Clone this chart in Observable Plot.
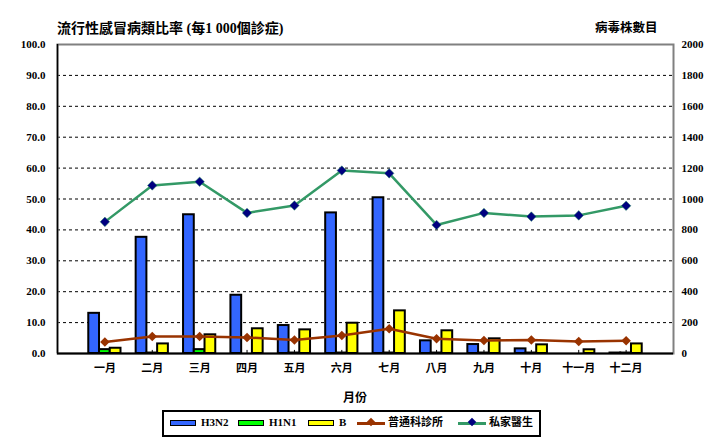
<!DOCTYPE html>
<html><head><meta charset="utf-8">
<script src="https://cdn.jsdelivr.net/npm/d3@7"></script>
<script src="https://cdn.jsdelivr.net/npm/@observablehq/plot@0.6"></script>
<style>
body{margin:0;background:#fff;}
#wrap{position:relative;width:721px;height:442px;font-family:"Liberation Serif","Noto Sans CJK TC",serif;font-weight:bold;color:#000;}
.t{position:absolute;white-space:nowrap;line-height:1;}
#legend{position:absolute;left:162px;top:410px;width:375px;height:23px;border:2px solid #000;font-size:11px;}
.sw{position:absolute;top:8px;width:24px;height:4px;border:1.5px solid #000;}
.ln{position:absolute;top:10px;width:28px;height:2.5px;}
.dm{position:absolute;top:7px;width:6px;height:6px;transform:rotate(45deg);}
.lt{position:absolute;top:5px;white-space:nowrap;line-height:1;}
</style></head><body><div id="wrap"></div>
<script>
const months = ["一月","二月","三月","四月","五月","六月","七月","八月","九月","十月","十一月","十二月"];
const h3n2 = [260, 752, 898, 377, 181, 910, 1008, 82, 58, 30, 0, 3];
const h1n1 = [25, 3, 25, 0, 3, 3, 3, 3, 3, 3, 0, 3];
const bVirus = [34, 62, 121, 160, 153, 196, 276, 147, 95, 56, 24, 62];
const gopcRate = [3.7, 5.5, 5.5, 5.2, 4.4, 5.8, 8.0, 4.8, 4.2, 4.4, 3.9, 4.1];
const privateRate = [42.6, 54.4, 55.6, 45.5, 47.9, 59.2, 58.3, 41.6, 45.5, 44.3, 44.7, 47.8];
const leftTicks = d3.range(0, 101, 10);
const rightTicks = d3.range(0, 2001, 200);
const seriesNames = ["H3N2", "H1N1", "B"];
const seriesColors = ["#3366ff", "#00ff00", "#ffff00"];
const lineNames = ["普通科診所", "私家醫生"];

const W = 721, H = 442, mL = 57, mR = 48, mT = 44, mB = 89;
const step = (W - mL - mR) / 13;
const bw = step * 0.68;
const third = bw / 3;
const ratio = 20; // right axis (strain counts) per left-axis unit

const barData = [h3n2, h1n1, bVirus];
const bars = barData.map((vals, i) =>
  Plot.barY(
    months.map((m, j) => ({m, v: vals[j] / ratio})).filter(d => d.v > 0),
    {x: "m", y: "v", fill: seriesColors[i], stroke: "#000", strokeWidth: 2,
     insetLeft: i * third, insetRight: (2 - i) * third}
  )
);
const gopc = months.map((m, j) => ({m, v: gopcRate[j]}));
const priv = months.map((m, j) => ({m, v: privateRate[j]}));

const chart = Plot.plot({
  width: W, height: H,
  marginLeft: mL, marginRight: mR, marginTop: mT, marginBottom: mB,
  style: {fontFamily: '"Liberation Serif","Noto Sans CJK TC",serif', fontSize: "11px", fontWeight: "bold", color: "#000", background: "transparent"},
  x: {type: "band", domain: months, paddingInner: 0.32, paddingOuter: 0.66, round: false},
  y: {domain: [0, 100]},
  marks: [
    Plot.ruleY(leftTicks.filter(t => t > 0 && t < 100), {stroke: "#000", strokeDasharray: "3,3", strokeWidth: 1}),
    Plot.frame({stroke: "#808080", strokeWidth: 2}),
    Plot.ruleX(months, {x: d => d, y1: 0, y2: 1, stroke: "#000"}),
    ...bars,
    Plot.ruleY([0], {stroke: "#000", strokeWidth: 2}),
    Plot.ruleX([months[0]], {dx: -(step - (step - bw) / 2 + (step - bw) / 2), stroke: "#000", strokeWidth: 1.5, y1: 0, y2: 100}),
    Plot.line(gopc, {x: "m", y: "v", stroke: "#993300", strokeWidth: 2.5}),
    Plot.dot(gopc, {x: "m", y: "v", symbol: "diamond2", r: 4.3, fill: "#993300", stroke: "none"}),
    Plot.line(priv, {x: "m", y: "v", stroke: "#339966", strokeWidth: 2.5}),
    Plot.dot(priv, {x: "m", y: "v", symbol: "diamond2", r: 4.3, fill: "#000080", stroke: "#339966", strokeWidth: 0.5}),
    Plot.axisY(leftTicks, {anchor: "left", tickSize: 0, tickPadding: 12, tickFormat: d => d.toFixed(1), label: null}),
    Plot.axisY(rightTicks.map(v => v / ratio), {anchor: "right", tickSize: 0, tickPadding: 8, tickFormat: d => String(Math.round(d * ratio)), label: null}),
    Plot.axisX({tickSize: 0, tickPadding: 11, label: null})
  ]
});
chart.style.position = "absolute";
chart.style.left = "0px";
chart.style.top = "0px";
const wrap = document.getElementById("wrap");
wrap.appendChild(chart);

function addText(txt, left, top, size, extra) {
  const d = document.createElement("div");
  d.className = "t";
  d.textContent = txt;
  d.style.left = left + "px";
  d.style.top = top + "px";
  d.style.fontSize = size + "px";
  if (extra) Object.assign(d.style, extra);
  wrap.appendChild(d);
  return d;
}
addText("流行性感冒病類比率 (每1 000個診症)", 57, 22, 14);
addText("病毒株數目", 595, 22, 12.5);
addText("月份", 343, 392, 12);

const lg = document.createElement("div");
lg.id = "legend";
wrap.appendChild(lg);
const swLeft = [6, 74, 144];
const txLeft = [37, 105, 175];
seriesNames.forEach((n, i) => {
  const s = document.createElement("div");
  s.className = "sw";
  s.style.left = swLeft[i] + "px";
  s.style.background = seriesColors[i];
  lg.appendChild(s);
  const t = document.createElement("div");
  t.className = "lt";
  t.textContent = n;
  t.style.left = txLeft[i] + "px";
  lg.appendChild(t);
});
const lnLeft = [193, 294];
const lnColor = ["#993300", "#339966"];
const dmColor = ["#993300", "#000080"];
lineNames.forEach((n, i) => {
  const l = document.createElement("div");
  l.className = "ln";
  l.style.left = lnLeft[i] + "px";
  l.style.background = lnColor[i];
  lg.appendChild(l);
  const dm = document.createElement("div");
  dm.className = "dm";
  dm.style.left = (lnLeft[i] + 11) + "px";
  dm.style.background = dmColor[i];
  lg.appendChild(dm);
  const t = document.createElement("div");
  t.className = "lt";
  t.textContent = n;
  t.style.left = (lnLeft[i] + 31) + "px";
  lg.appendChild(t);
});
</script>
</body></html>
